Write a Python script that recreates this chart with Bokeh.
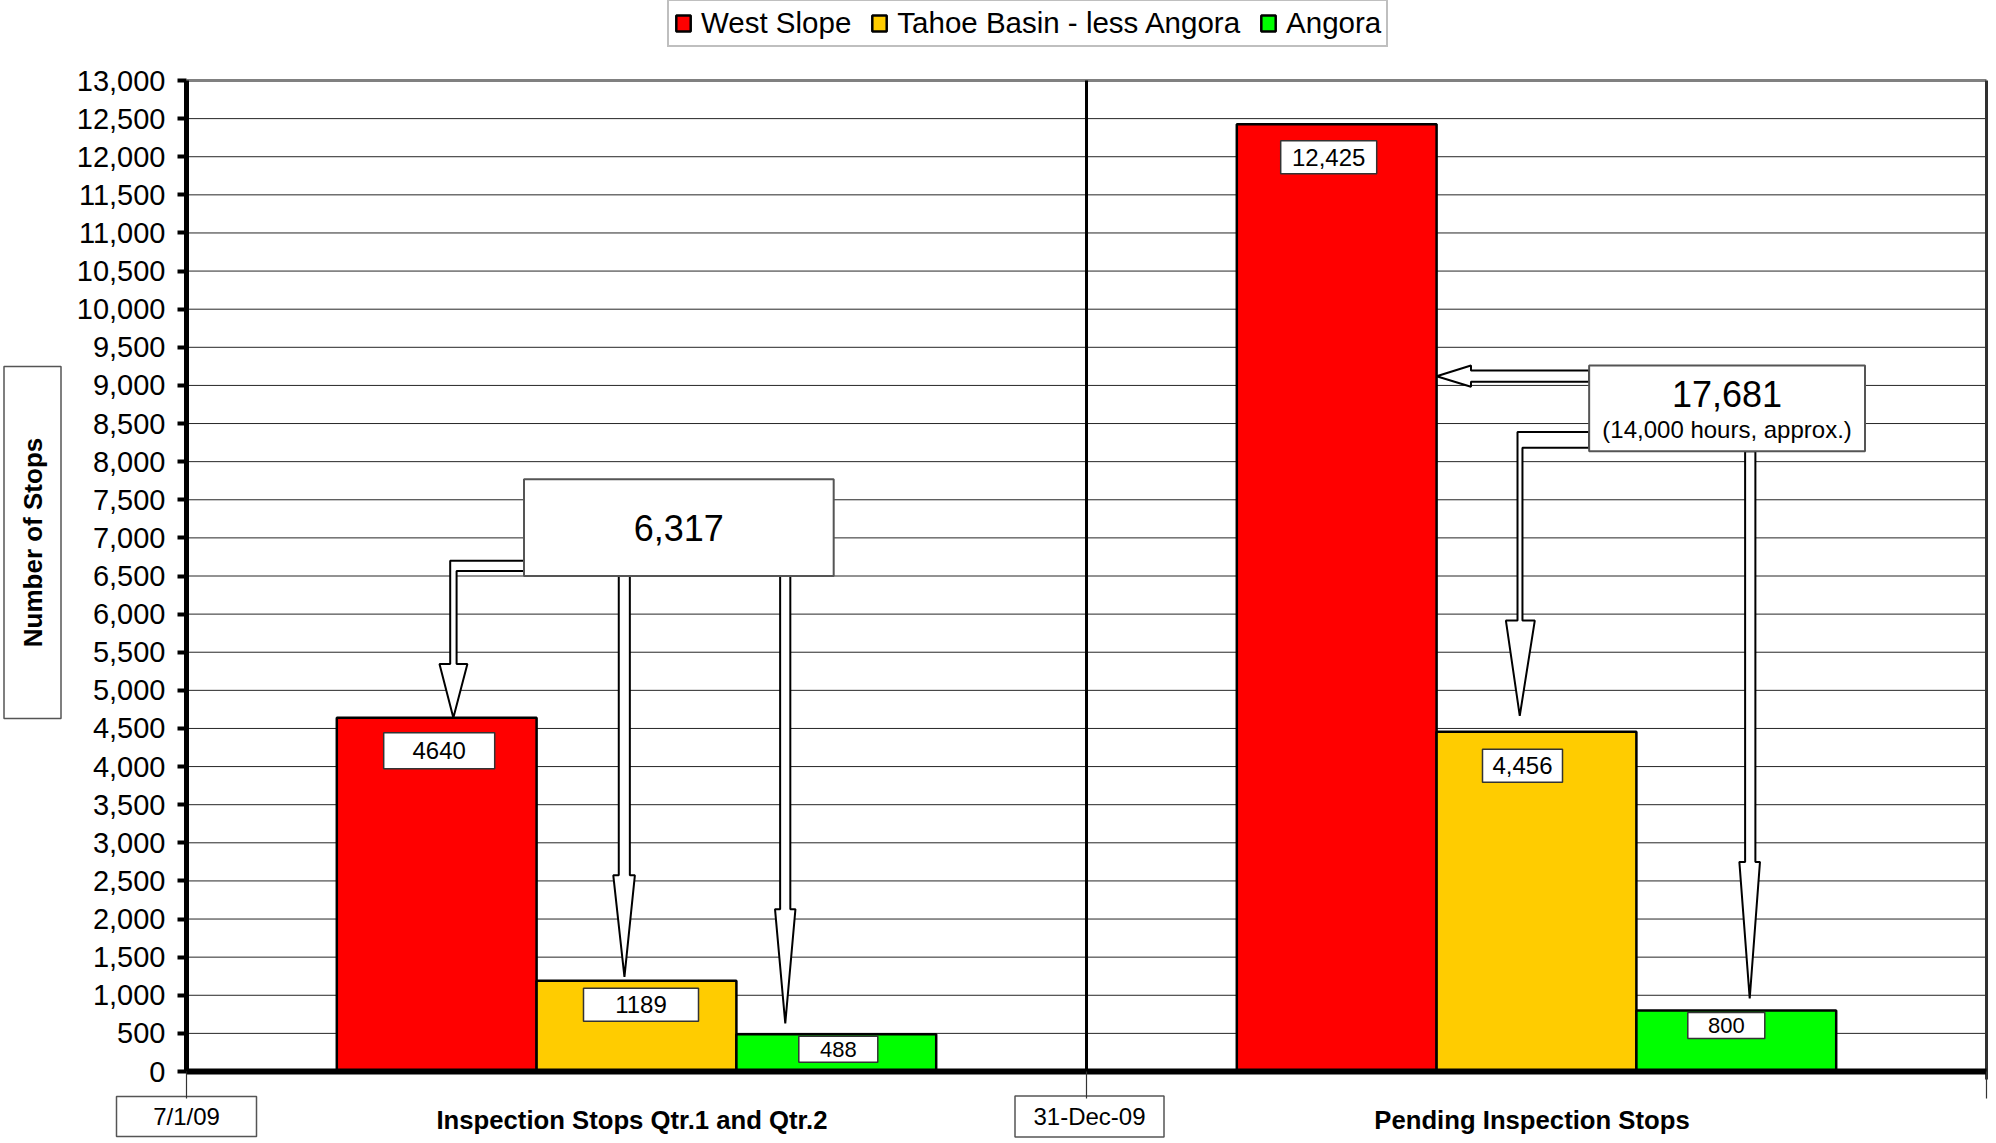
import math
from bokeh.plotting import figure
from bokeh.models import (Legend, LegendItem, FixedTicker, Range1d,
                          NumeralTickFormatter, CustomJSTickFormatter)
from bokeh.core.properties import value
from bokeh.embed import file_html
from bokeh.resources import INLINE

# ---------------- data ----------------
categories = ["Inspection Stops Qtr.1 and Qtr.2", "Pending Inspection Stops"]
period_labels = ["7/1/09", "31-Dec-09"]
series_names = ["West Slope", "Tahoe Basin - less Angora", "Angora"]
west_slope = [4640, 12425]
tahoe_basin = [1189, 4456]
angora = [488, 800]
west_slope_labels = ["4640", "12,425"]
tahoe_basin_labels = ["1189", "4,456"]
angora_labels = ["488", "800"]
total_labels = ["6,317", "17,681"]
total_notes = ["", "(14,000 hours, approx.)"]
y_ticks = list(range(0, 13001, 500))
y_title = "Number of Stops"

# ---------------- layout / style ----------------
FONT = "Liberation Sans"
W, H = 1994, 1141
X0, X2 = 186, 1986          # screen x of category edges 0 and 2
YTOP, Y0 = 80, 1071         # screen y of 13000 and 0
YMAX = 13000
UPX_X = 2.0 / (X2 - X0)
UPX_Y = YMAX / (Y0 - YTOP)

def sx(px):
    return (px - X0) * UPX_X

def sy(py):
    return (Y0 - py) * UPX_Y

colors = ["#FF0000", "#FFCC00", "#00FF00"]
BAR_W = 0.222
offsets = [-BAR_W, 0.0, BAR_W]
centers = [i + 0.5 for i in range(len(categories))]

p = figure(width=W, height=H, output_backend="svg", toolbar_location=None,
           x_range=Range1d(sx(0), sx(W)), y_range=Range1d(sy(H), sy(0)),
           min_border=0, min_border_left=0, min_border_right=0,
           min_border_top=0, min_border_bottom=0)
p.background_fill_color = "white"
p.border_fill_color = "white"
p.outline_line_color = None
p.xgrid.grid_line_color = None
p.ygrid.grid_line_color = None

# y axis (fixed at category edge 0)
p.yaxis.fixed_location = 0
p.yaxis.bounds = (0, YMAX)
p.yaxis.ticker = FixedTicker(ticks=y_ticks)
p.yaxis.formatter = NumeralTickFormatter(format="0,0")
p.yaxis.axis_line_width = 5
p.yaxis.axis_line_color = "black"
p.yaxis.major_tick_out = 9
p.yaxis.major_tick_in = 0
p.yaxis.major_tick_line_width = 4
p.yaxis.minor_tick_line_color = None
p.yaxis.major_label_text_font = FONT
p.yaxis.major_label_text_font_size = "29px"
p.yaxis.major_label_text_color = "black"
p.yaxis.major_label_standoff = 12

# x axis (fixed at 0)
p.xaxis.fixed_location = 0
p.xaxis.bounds = (0, 2)
p.xaxis.ticker = FixedTicker(ticks=[0, 1, 2])
p.xaxis.formatter = CustomJSTickFormatter(code="return ''")
p.xaxis.axis_line_width = 6
p.xaxis.axis_line_color = "black"
p.xaxis.major_tick_out = 27
p.xaxis.major_tick_in = 0
p.xaxis.major_tick_line_width = 1.2
p.xaxis.major_tick_line_color = "#333333"
p.xaxis.minor_tick_line_color = None

# horizontal gridlines, drawn across the plotting area only
grid_y = [t for t in y_ticks if 0 < t < YMAX]
p.segment(x0=[0] * len(grid_y), x1=[2] * len(grid_y), y0=grid_y, y1=grid_y,
          line_color="#262626", line_width=1)
# frame: top (gray), divider and right edge
p.segment(x0=[0], x1=[2], y0=[YMAX], y1=[YMAX], line_color="#808080", line_width=3)
p.segment(x0=[1], x1=[1], y0=[0], y1=[YMAX], line_color="black", line_width=3)
p.segment(x0=[2], x1=[2], y0=[-8 * UPX_Y], y1=[YMAX], line_color="#303030", line_width=3)

# ---------------- bars ----------------
series = [west_slope, tahoe_basin, angora]
series_labels = [west_slope_labels, tahoe_basin_labels, angora_labels]
renderers = []
for k, (vals, col) in enumerate(zip(series, colors)):
    xs = [c + offsets[k] for c in centers]
    r = p.vbar(x=xs, top=vals, width=BAR_W, bottom=0, fill_color=col,
               line_color="black", line_width=2.5)
    renderers.append(r)

# value labels in white boxes (per bar: x shift px, drop px, box w, box h, font px)
box_style = [
    [(2.5, 33, 111, 36, 24), (-8, 33, 96, 33, 24)],
    [(4.5, 24, 115, 33, 24), (-14, 34, 80, 33, 24)],
    [(2, 15, 79, 26, 22), (-10, 15, 77, 26, 22)],
]
for k, (vals, labs) in enumerate(zip(series, series_labels)):
    for i, (v, t) in enumerate(zip(vals, labs)):
        dx, dy, bw, bh, fs = box_style[k][i]
        bx = centers[i] + offsets[k] + dx * UPX_X
        by = v - dy * UPX_Y
        p.rect(x=[bx], y=[by], width=[bw], height=[bh], width_units="screen",
               height_units="screen", fill_color="white", line_color="#333333", line_width=1.5)
        p.text(x=[bx], y=[by], text=[t], text_font=value(FONT), text_font_size=f"{fs}px",
               text_align="center", text_baseline="middle", text_color="black")

# ---------------- callout arrows ----------------
def elbow(xs0, yt, yb, xo, xi, hb, hl, hr, tx, ty):
    return ([xs0, xo, xo, hl, tx, hr, xi, xi, xs0],
            [yt, yt, hb, hb, ty, hb, hb, yb, yb])

def down(xl, xr, ys, hb, hl, hr, tx, ty):
    return ([xl, xl, hl, tx, hr, xr, xr], [ys, hb, hb, ty, hb, hb, ys])

def left(xs0, yt, yb, hbx, ht, hbt, tx, ty):
    return ([xs0, hbx, hbx, tx, hbx, hbx, xs0], [yt, yt, ht, ty, hbt, yb, yb])

lbox = dict(left=0.375, right=0.7191, bottom=6500, top=7770)
rbox = dict(left=1.5585, right=1.865, bottom=8138, top=9261)
red2_right = centers[1] + offsets[0] + BAR_W / 2

arrows = [
    elbow(lbox["left"], 6701, 6567, 0.2930, 0.3001, 5347, 0.2811, 0.3121, 0.2965, west_slope[0]),
    down(0.4803, 0.4926, lbox["bottom"], 2573, 0.4742, 0.4982, 0.4866, tahoe_basin[0] + 4 * UPX_Y),
    down(0.6596, 0.6709, lbox["bottom"], 2129, 0.6539, 0.6766, 0.6653, angora[0] + 11 * UPX_Y),
    left(rbox["left"], 9196, 9047, 1.4272, 9261, 8982, red2_right, 9120),
    elbow(rbox["left"], 8388, 8183, 1.4789, 1.4844, 5915, 1.4660, 1.4981, 1.4814, tahoe_basin[1] + 16 * UPX_Y),
    down(1.7318, 1.7432, rbox["bottom"], 2749, 1.7254, 1.7483, 1.7369, angora[1] + 12 * UPX_Y),
]
p.patches(xs=[a[0] for a in arrows], ys=[a[1] for a in arrows], fill_color="white",
          line_color="black", line_width=2)

for b in (lbox, rbox):
    p.quad(left=[b["left"]], right=[b["right"]], bottom=[b["bottom"]], top=[b["top"]],
           fill_color="white", line_color="#555555", line_width=2)

p.text(x=[(lbox["left"] + lbox["right"]) / 2], y=[(lbox["bottom"] + lbox["top"]) / 2],
       text=[total_labels[0]], text_font=value(FONT), text_font_size="36px",
       text_align="center", text_baseline="middle", text_color="black")
rcx = (rbox["left"] + rbox["right"]) / 2
p.text(x=[rcx], y=[rbox["top"] - 28 * UPX_Y], text=[total_labels[1]], text_font=value(FONT),
       text_font_size="36px", text_align="center", text_baseline="middle", text_color="black")
p.text(x=[rcx], y=[rbox["bottom"] + 22 * UPX_Y], text=[total_notes[1]], text_font=value(FONT),
       text_font_size="24px", text_align="center", text_baseline="middle", text_color="black")

# ---------------- labels below the axis and axis title ----------------
period_boxes = [(186, 1116, 140, 40), (1089, 1116, 149, 41)]
for i, t in enumerate(period_labels):
    cx, cy, bw, bh = period_boxes[i]
    p.rect(x=[sx(cx)], y=[sy(cy)], width=[bw], height=[bh], width_units="screen",
           height_units="screen", fill_color="white", line_color="#555555", line_width=1.5)
    p.text(x=[sx(cx)], y=[sy(cy)], text=[t], text_font=value(FONT), text_font_size="24px",
           text_align="center", text_baseline="middle", text_color="black")
for i, t in enumerate(categories):
    p.text(x=[centers[i] - 0.005], y=[sy(1119)], text=[t], text_font=value(FONT),
           text_font_size="25.7px", text_font_style="bold", text_align="center",
           text_baseline="middle", text_color="black")

p.rect(x=[sx(32)], y=[sy(542)], width=[57], height=[352], width_units="screen",
       height_units="screen", fill_color="white", line_color="#555555", line_width=1.5)
p.text(x=[sx(32.5)], y=[sy(542)], text=[y_title], text_font=value(FONT), text_font_size="26px",
       text_font_style="bold", angle=math.pi / 2, text_align="center",
       text_baseline="middle", text_color="black")

# ---------------- legend ----------------
legend = Legend(items=[LegendItem(label=n, renderers=[r]) for n, r in zip(series_names, renderers)],
                location=(667, H - 47), orientation="horizontal",
                label_text_font=FONT, label_text_font_size="29.5px", label_text_color="black",
                glyph_width=18, glyph_height=20, label_standoff=9, spacing=19, padding=5,
                margin=0, border_line_color="#7f7f7f", border_line_width=2,
                background_fill_color="white", background_fill_alpha=1.0)
p.add_layout(legend)

open("out.html", "w").write(file_html(p, INLINE))
